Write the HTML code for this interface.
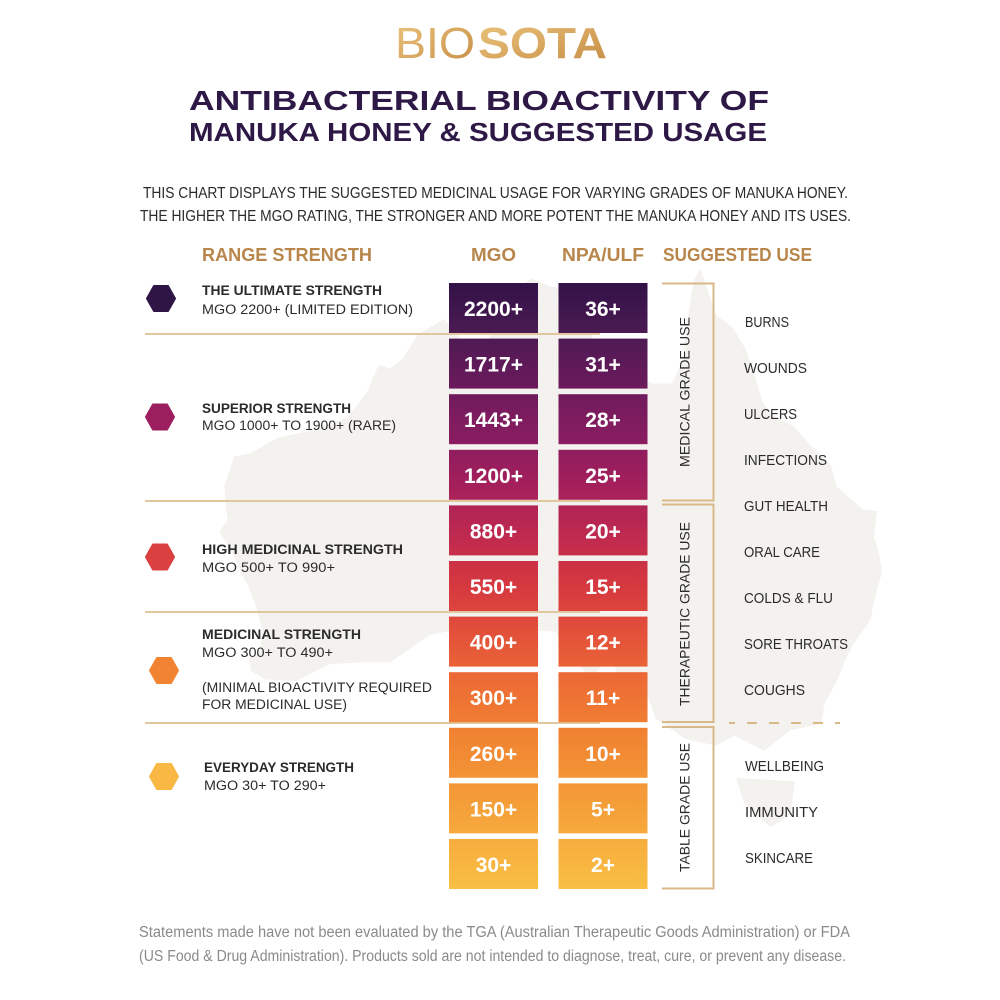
<!DOCTYPE html>
<html><head><meta charset="utf-8"><style>
html,body{margin:0;padding:0;background:#fff;}
svg{display:block;}
text{font-family:"Liberation Sans",Arial,sans-serif;}
</style></head><body>
<svg width="1000" height="1000" viewBox="0 0 1000 1000" xmlns="http://www.w3.org/2000/svg">
<defs>
<linearGradient id="cg" gradientUnits="userSpaceOnUse" x1="0" y1="283" x2="0" y2="889">
<stop offset="0" stop-color="#321248"/>
<stop offset="0.08" stop-color="#4a1a52"/>
<stop offset="0.15" stop-color="#641a5a"/>
<stop offset="0.25" stop-color="#861c60"/>
<stop offset="0.33" stop-color="#a31f5c"/>
<stop offset="0.42" stop-color="#c02a4e"/>
<stop offset="0.5" stop-color="#d6383f"/>
<stop offset="0.58" stop-color="#e3513a"/>
<stop offset="0.66" stop-color="#ed6c34"/>
<stop offset="0.75" stop-color="#f18432"/>
<stop offset="0.85" stop-color="#f49c38"/>
<stop offset="1" stop-color="#f9bf44"/>
</linearGradient>
<linearGradient id="lg" x1="0" y1="0" x2="1" y2="1">
<stop offset="0" stop-color="#ecc47c"/>
<stop offset="1" stop-color="#c68c45"/>
</linearGradient>
</defs>

<!-- Australia map background -->
<g transform="matrix(16.4,0,0,17,-1637,86.1)" fill="#f4f2ee">
<polygon points="142.5,10.7 143.5,13.5 144.5,14.2 145.3,15.5 145.8,16.9 146.3,18.5 146.8,19.3 148.2,20 149.2,21.1 150.5,22.3 150.8,23.5 152.4,24.9 153.3,25 153.1,26.5 153.4,27.4 153.6,28.6 153.1,30.3 152.9,31.4 151.8,32.9 151.3,33.9 150.8,35.1 150.1,36.3 149.9,37.5 148,37.9 146.4,39.1 145,38.4 144.6,38.2 143.5,38.8 141.6,38.4 139.8,37.2 139.3,35.9 138.5,35.6 138,34.6 137.5,35.2 137.3,34 137.8,32.6 136.8,33.8 135.9,34.8 135.3,34.3 134.2,33 133.7,32.1 132.4,32 131.1,31.5 128.9,31.7 126,32.3 123.6,33.9 121.9,33.9 119.9,34 117.9,35 116,34.9 115.1,34.4 115,33.6 115.7,33.3 115.8,32 115.4,30.5 114.9,29.3 114.6,28.8 114,27.5 113.2,26.2 113.7,25.5 113.6,24.9 113.5,23.5 114.1,21.8 115.1,21.6 116.7,20.7 118.6,20.3 121,19.5 122.2,18 122.9,16.4 123.6,16.6 124.4,16.0 125.3,14.6 126.9,13.7 128.1,15.1 129.6,14.9 130.3,12.9 130.8,12.4 132.2,11.3 133.4,11.8 135.5,12 136.9,12.3 135.9,13.5 135.9,15 137.5,16.3 139.6,17.5 140.8,17.5 141.5,16 141.6,14.5 141.9,12.7 142.1,11.5"/>
<polygon points="144.7,40.7 148.3,40.9 148,42.9 146.8,43.6 145.2,42.2"/>
</g>

<!-- Logo -->
<text x="395" y="58" font-size="44" font-weight="normal" fill="url(#lg)" textLength="80" lengthAdjust="spacingAndGlyphs">BIO</text>
<text x="478" y="58" font-size="44" font-weight="bold" fill="url(#lg)" textLength="129" lengthAdjust="spacingAndGlyphs">SOTA</text>

<!-- Title -->
<text x="189" y="110" font-size="28" font-weight="bold" fill="#2d1846" textLength="580" lengthAdjust="spacingAndGlyphs">ANTIBACTERIAL BIOACTIVITY OF</text>
<text x="189" y="141" font-size="26" font-weight="bold" fill="#2d1846" textLength="578" lengthAdjust="spacingAndGlyphs">MANUKA HONEY &amp; SUGGESTED USAGE</text>

<!-- Subtitle -->
<text x="143" y="198" font-size="15.5" fill="#2b2b2b" textLength="705" lengthAdjust="spacingAndGlyphs">THIS CHART DISPLAYS THE SUGGESTED MEDICINAL USAGE FOR VARYING GRADES OF MANUKA HONEY.</text>
<text x="140" y="221" font-size="15.5" fill="#2b2b2b" textLength="711" lengthAdjust="spacingAndGlyphs">THE HIGHER THE MGO RATING, THE STRONGER AND MORE POTENT THE MANUKA HONEY AND ITS USES.</text>

<!-- Column headers -->
<g font-size="18" font-weight="bold" fill="#b8864b">
<text x="202" y="261" textLength="170" lengthAdjust="spacingAndGlyphs">RANGE STRENGTH</text>
<text x="471" y="261" textLength="45" lengthAdjust="spacingAndGlyphs">MGO</text>
<text x="562" y="261" textLength="82" lengthAdjust="spacingAndGlyphs">NPA/ULF</text>
<text x="663" y="261" textLength="149" lengthAdjust="spacingAndGlyphs">SUGGESTED USE</text>
</g>

<!-- Separator lines -->
<g stroke="#e2c79e" stroke-width="2">
<line x1="145" y1="334" x2="600" y2="334"/>
<line x1="145" y1="501" x2="600" y2="501"/>
<line x1="145" y1="612" x2="600" y2="612"/>
<line x1="145" y1="723" x2="600" y2="723"/>
</g>

<!-- Cells -->
<g fill="url(#cg)">
<rect x="449" y="283" width="89" height="50"/><rect x="558.5" y="283" width="89" height="50"/>
<rect x="449" y="338.6" width="89" height="50"/><rect x="558.5" y="338.6" width="89" height="50"/>
<rect x="449" y="394.2" width="89" height="50"/><rect x="558.5" y="394.2" width="89" height="50"/>
<rect x="449" y="449.8" width="89" height="50"/><rect x="558.5" y="449.8" width="89" height="50"/>
<rect x="449" y="505.4" width="89" height="50"/><rect x="558.5" y="505.4" width="89" height="50"/>
<rect x="449" y="561" width="89" height="50"/><rect x="558.5" y="561" width="89" height="50"/>
<rect x="449" y="616.6" width="89" height="50"/><rect x="558.5" y="616.6" width="89" height="50"/>
<rect x="449" y="672.2" width="89" height="50"/><rect x="558.5" y="672.2" width="89" height="50"/>
<rect x="449" y="727.8" width="89" height="50"/><rect x="558.5" y="727.8" width="89" height="50"/>
<rect x="449" y="783.4" width="89" height="50"/><rect x="558.5" y="783.4" width="89" height="50"/>
<rect x="449" y="839" width="89" height="50"/><rect x="558.5" y="839" width="89" height="50"/>
</g>

<g font-size="21" font-weight="bold" fill="#ffffff" text-anchor="middle">
<text x="493.5" y="316">2200+</text><text x="603" y="316">36+</text>
<text x="493.5" y="371.6">1717+</text><text x="603" y="371.6">31+</text>
<text x="493.5" y="427.2">1443+</text><text x="603" y="427.2">28+</text>
<text x="493.5" y="482.8">1200+</text><text x="603" y="482.8">25+</text>
<text x="493.5" y="538.4">880+</text><text x="603" y="538.4">20+</text>
<text x="493.5" y="594">550+</text><text x="603" y="594">15+</text>
<text x="493.5" y="649.6">400+</text><text x="603" y="649.6">12+</text>
<text x="493.5" y="705.2">300+</text><text x="603" y="705.2">11+</text>
<text x="493.5" y="760.8">260+</text><text x="603" y="760.8">10+</text>
<text x="493.5" y="816.4">150+</text><text x="603" y="816.4">5+</text>
<text x="493.5" y="872">30+</text><text x="603" y="872">2+</text>
</g>

<!-- Hexagons -->
<g stroke-linejoin="round" stroke-width="2">
<polygon points="147,298.5 154,286 168,286 175,298.5 168,311 154,311" fill="#2f1446" stroke="#2f1446"/>
<polygon points="146,417 153,404.5 167,404.5 174,417 167,429.5 153,429.5" fill="#9b1f5f" stroke="#9b1f5f"/>
<polygon points="146,557 153,544.5 167,544.5 174,557 167,569.5 153,569.5" fill="#d9403f" stroke="#d9403f"/>
<polygon points="150,670.5 157,658 171,658 178,670.5 171,683 157,683" fill="#f18433" stroke="#f18433"/>
<polygon points="150,776.5 157,764 171,764 178,776.5 171,789 157,789" fill="#f8b843" stroke="#f8b843"/>
</g>

<!-- Left range texts -->
<g font-size="13.5" fill="#2b2b2b">
<text x="202" y="295" font-weight="bold" textLength="180" lengthAdjust="spacingAndGlyphs">THE ULTIMATE STRENGTH</text>
<text x="202" y="314" textLength="211" lengthAdjust="spacingAndGlyphs">MGO 2200+ (LIMITED EDITION)</text>
<text x="202" y="413" font-weight="bold" textLength="149" lengthAdjust="spacingAndGlyphs">SUPERIOR STRENGTH</text>
<text x="202" y="430" textLength="194" lengthAdjust="spacingAndGlyphs">MGO 1000+ TO 1900+ (RARE)</text>
<text x="202" y="554" font-weight="bold" textLength="201" lengthAdjust="spacingAndGlyphs">HIGH MEDICINAL STRENGTH</text>
<text x="202" y="572" textLength="133" lengthAdjust="spacingAndGlyphs">MGO 500+ TO 990+</text>
<text x="202" y="639" font-weight="bold" textLength="159" lengthAdjust="spacingAndGlyphs">MEDICINAL STRENGTH</text>
<text x="202" y="657" textLength="131" lengthAdjust="spacingAndGlyphs">MGO 300+ TO 490+</text>
<text x="202" y="692" textLength="230" lengthAdjust="spacingAndGlyphs">(MINIMAL BIOACTIVITY REQUIRED</text>
<text x="202" y="709" textLength="145" lengthAdjust="spacingAndGlyphs">FOR MEDICINAL USE)</text>
<text x="204" y="772" font-weight="bold" textLength="150" lengthAdjust="spacingAndGlyphs">EVERYDAY STRENGTH</text>
<text x="204" y="790" textLength="122" lengthAdjust="spacingAndGlyphs">MGO 30+ TO 290+</text>
</g>

<!-- Brackets -->
<g fill="none" stroke="#d9b98a" stroke-width="2">
<path d="M662,283.5 H713.5 V500.5 H662"/>
<path d="M662,504.5 H713.5 V722 H662"/>
<path d="M662,727 H713.5 V888.5 H662"/>
<line x1="729" y1="723" x2="735" y2="723"/>
<line x1="747" y1="723" x2="840" y2="723" stroke-dasharray="10 12"/>
</g>

<!-- Vertical labels -->
<g font-size="14" fill="#2b2b2b" text-anchor="middle">
<text transform="translate(689.5,392) rotate(-90)" textLength="150" lengthAdjust="spacingAndGlyphs">MEDICAL GRADE USE</text>
<text transform="translate(689.5,614) rotate(-90)" textLength="184" lengthAdjust="spacingAndGlyphs">THERAPEUTIC GRADE USE</text>
<text transform="translate(689.5,807.5) rotate(-90)" textLength="129" lengthAdjust="spacingAndGlyphs">TABLE GRADE USE</text>
</g>

<!-- Suggested uses -->
<g font-size="14.5" fill="#2b2b2b">
<text x="745" y="327" textLength="44" lengthAdjust="spacingAndGlyphs">BURNS</text>
<text x="744" y="373" textLength="63" lengthAdjust="spacingAndGlyphs">WOUNDS</text>
<text x="744" y="419" textLength="53" lengthAdjust="spacingAndGlyphs">ULCERS</text>
<text x="744" y="465" textLength="83" lengthAdjust="spacingAndGlyphs">INFECTIONS</text>
<text x="744" y="511" textLength="84" lengthAdjust="spacingAndGlyphs">GUT HEALTH</text>
<text x="744" y="557" textLength="76" lengthAdjust="spacingAndGlyphs">ORAL CARE</text>
<text x="744" y="603" textLength="89" lengthAdjust="spacingAndGlyphs">COLDS &amp; FLU</text>
<text x="744" y="649" textLength="104" lengthAdjust="spacingAndGlyphs">SORE THROATS</text>
<text x="744" y="695" textLength="61" lengthAdjust="spacingAndGlyphs">COUGHS</text>
<text x="745" y="771" textLength="79" lengthAdjust="spacingAndGlyphs">WELLBEING</text>
<text x="745" y="817" textLength="73" lengthAdjust="spacingAndGlyphs">IMMUNITY</text>
<text x="745" y="863" textLength="68" lengthAdjust="spacingAndGlyphs">SKINCARE</text>
</g>

<!-- Footer -->
<g font-size="15.5" fill="#8a8a8a">
<text x="139" y="937" textLength="711" lengthAdjust="spacingAndGlyphs">Statements made have not been evaluated by the TGA (Australian Therapeutic Goods Administration) or FDA</text>
<text x="139" y="961" textLength="707" lengthAdjust="spacingAndGlyphs">(US Food &amp; Drug Administration). Products sold are not intended to diagnose, treat, cure, or prevent any disease.</text>
</g>
</svg>
</body></html>
